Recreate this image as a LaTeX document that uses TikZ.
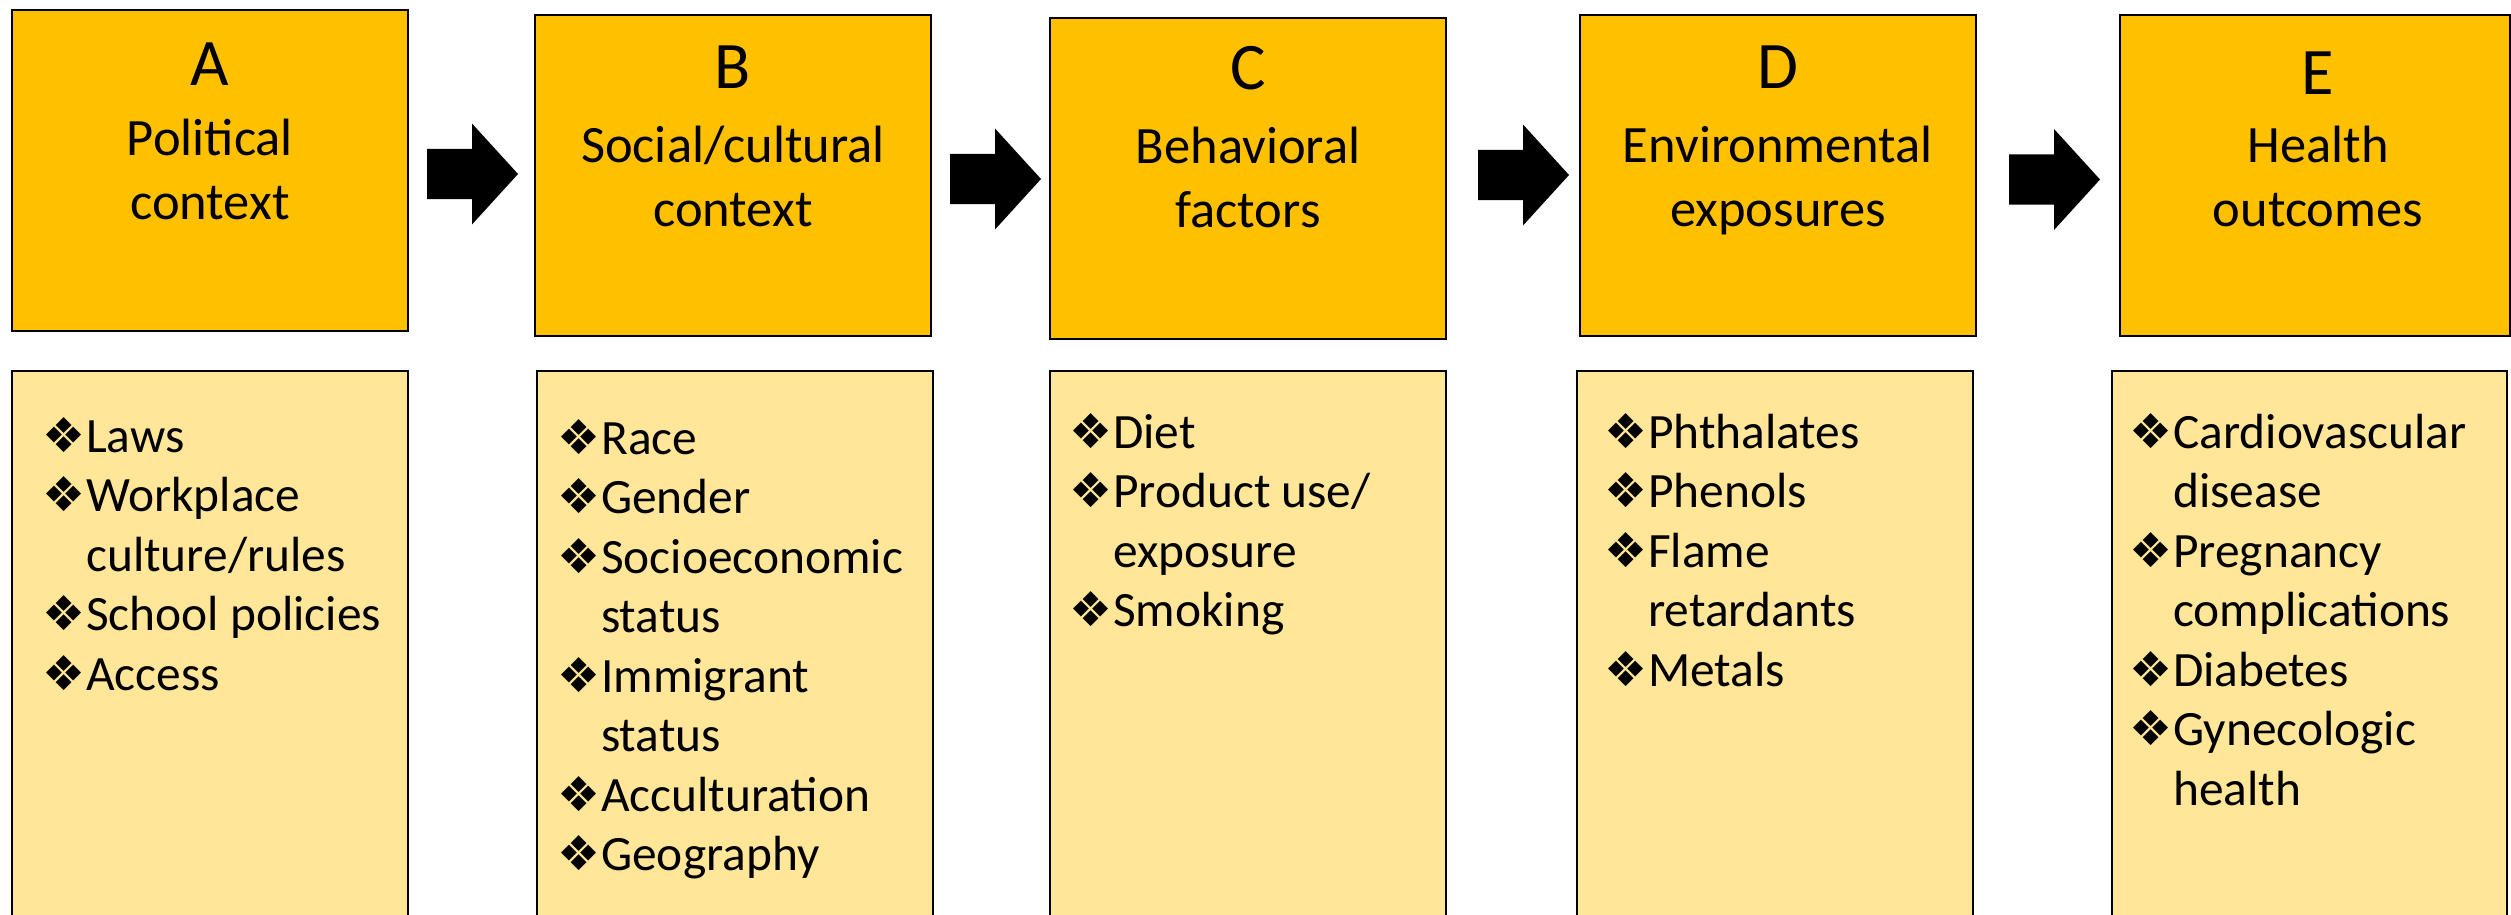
\documentclass[tikz,border=0pt]{standalone}
\usepackage{fontspec}
\setmainfont{Carlito}
\newfontfamily\dingfont{DejaVu Sans}
\definecolor{gold}{HTML}{FFC000}
\definecolor{paleGold}{HTML}{FFE699}
% list typography
\newcommand\listfont{\fontsize{49.4}{59.5}\selectfont}
\newcommand\bul{{\dingfont\fontsize{48}{48}\selectfont ❖}}
\newcommand\itm[1]{\hbox{\llap{\makebox[44pt][l]{\bul}}#1}}
\newcommand\cnt[1]{\hbox{#1}}
\newcommand\itemlist[1]{\vtop{\listfont\lineskiplimit=-100pt #1}}
% two centred title lines, the node's baseline is the first line
\newcommand\twolines[2]{\vtop{\baselineskip=64pt\lineskiplimit=-100pt\halign{\hfil##\hfil\cr#1\cr#2\cr}}}
\tikzset{
  headbox/.style={draw=black, line width=2.6pt, fill=gold, rectangle, anchor=north west, inner sep=0pt, outer sep=0pt, minimum height=321pt},
  listbox/.style={draw=black, line width=2.6pt, fill=paleGold, rectangle, anchor=north west, inner sep=0pt, outer sep=0pt, minimum height=570pt},
  letter/.style={anchor=base, inner sep=0pt, font=\fontsize{66.5}{70}\selectfont},
  title/.style={anchor=base, inner sep=0pt, font=\fontsize{52.5}{64}\selectfont},
  items/.style={anchor=base west, inner sep=0pt},
  blockarrow/.pic={\fill[black] (0,-25) -- (45,-25) -- (45,-50.5) -- (91,0) -- (45,50.5) -- (45,25) -- (0,25) -- cycle;}
}
\begin{document}
\begin{tikzpicture}[x=1pt, y=-1pt]
\useasboundingbox (0,0) rectangle (2511,915);
\clip (0,0) rectangle (2511,915);

% upper boxes
\node[headbox, minimum width=396pt] (hA) at (12,10) {};
\node[headbox, minimum width=396pt] (hB) at (535,15) {};
\node[headbox, minimum width=396pt] (hC) at (1050,18) {};
\node[headbox, minimum width=396pt] (hD) at (1580,15) {};
\node[headbox, minimum width=390pt] (hE) at (2120,15) {};

% lower boxes
\node[listbox, minimum width=396pt] (lA) at (12,371) {};
\node[listbox, minimum width=396pt] (lB) at (537,371) {};
\node[listbox, minimum width=396pt] (lC) at (1050,371) {};
\node[listbox, minimum width=396pt] (lD) at (1577,371) {};
\node[listbox, minimum width=395pt] (lE) at (2112,371) {};

% block arrows between the upper boxes
\coordinate (aAB) at (427,174);
\coordinate (aBC) at (950,179);
\coordinate (aCD) at (1478,175);
\coordinate (aDE) at (2009,179.5);
\path (aAB) pic {blockarrow};
\path (aBC) pic {blockarrow};
\path (aCD) pic {blockarrow};
\path (aDE) pic {blockarrow};

% headings
\node[letter] (tA) at (210,86) {A};
\node[letter] (tB) at (733,89) {B};
\node[letter] (tC) at (1248,90) {C};
\node[letter] (tD) at (1778,89) {D};
\node[letter] (tE) at (2318,95) {E};
\node[title] (nA) at (210,156) {\twolines{Political}{context}};
\node[title] (nB) at (733,162) {\twolines{Social/cultural}{context}};
\node[title] (nC) at (1248,164) {\twolines{Behavioral}{factors}};
\node[title] (nD) at (1778,162) {\twolines{Environmental}{exposures}};
\node[title] (nE) at (2318,162) {\twolines{Health}{outcomes}};

% item lists
\node[items] (iA) at (86,452) {\itemlist{\itm{Laws}\itm{Workplace}\cnt{culture/rules}\itm{School policies}\itm{Access}}};
\node[items] (iB) at (601,454) {\itemlist{\itm{Race}\itm{Gender}\itm{Socioeconomic}\cnt{status}\itm{Immigrant}\cnt{status}\itm{Acculturation}\itm{Geography}}};
\node[items] (iC) at (1113,448) {\itemlist{\itm{Diet}\itm{Product use/}\cnt{exposure}\itm{Smoking}}};
\node[items] (iD) at (1648,448) {\itemlist{\itm{Phthalates}\itm{Phenols}\itm{Flame}\cnt{retardants}\itm{Metals}}};
\node[items] (iE) at (2173,448) {\itemlist{\itm{Cardiovascular}\cnt{disease}\itm{Pregnancy}\cnt{complications}\itm{Diabetes}\itm{Gynecologic}\cnt{health}}};
\end{tikzpicture}
\end{document}
